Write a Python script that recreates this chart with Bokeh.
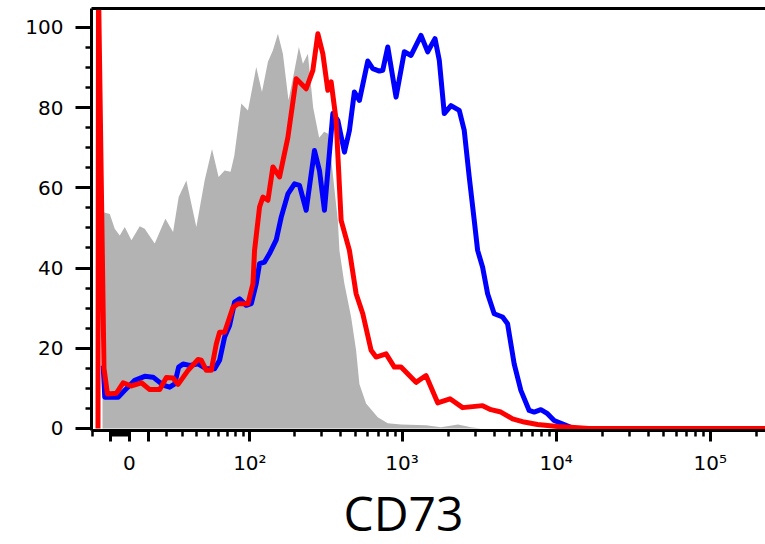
import numpy as np
from bokeh.plotting import figure
from bokeh.models import Range1d, FixedTicker, SingleIntervalTicker, LinearAxis, Title
from bokeh.embed import file_html
from bokeh.resources import INLINE

# ---- display scale: biexponential (arcsinh) channel, channel 0 == intensity 0
BIEX_W = 34.0
BIEX_SCALE = 154.3


def to_channel(v):
    return BIEX_SCALE * np.arcsinh(np.asarray(v, dtype=float) / BIEX_W) / np.log(10)


# ---- data (x in display channels, y in % of max)
gray_ch = [-27, -19.7, -14.7, -9.7, -4.7, 2, 10.3, 15.3, 25.3, 36, 43.7, 49.3, 57, 67, 75.3,
           82.7, 89.3, 95.3, 101.3, 105, 108.7, 112, 118.7, 127, 132.7, 138.7, 143.7, 148.7,
           153.7, 159.3, 165.3, 169.7, 173.7, 178.7, 184, 190, 195, 199, 203, 208.7, 210.3,
           215.3, 222, 227, 230.3, 237, 248.7, 258.7, 272, 297, 312, 329, 342, 352]
gray_pct = [54, 53.5, 49.8, 48.1, 50.2, 46.9, 50.4, 49.8, 46.1, 52.3, 49, 57.7, 61.8, 50.2, 61.8,
            69.7, 62.7, 64.3, 64, 68, 75, 81, 79.3, 90.1, 83.9, 91.4, 94.3, 98.4,
            93.4, 81.8, 89.3, 95.1, 90.9, 93.4, 80, 72.5, 74, 73.5, 65, 51.9, 44.4,
            36.1, 27.8, 19.5, 11.1, 6.2, 2.8, 1.3, 1.0, 0.8, 0.3, 1.0, 0.3, 0]

blue_ch = [-26.3, -24.7, -19.7, -11.3, -4.7, 5.3, 15.3, 23.7, 30.3, 35.3, 40.3, 45.3, 49.3, 53.7,
           60.3, 68.7, 77, 85.3, 90.3, 95.3, 100.3, 105.3, 110.3, 117, 122, 127, 130.3, 135.3,
           140.3, 147, 152, 158.7, 165.3, 170.3, 177, 185.3, 190.3, 195.3, 203.7, 208.7, 215.3,
           220.3, 225.3, 230.3, 238.7, 243.7, 250.3, 253.7, 258.7, 267, 275.3, 282, 292, 298.7,
           306, 310.3, 315.3, 322, 330.3, 335.3, 340.3, 345.3, 348.7, 353.7, 358.7, 365.3, 373.7,
           378.7, 385.3, 392, 400.3, 405.3, 412, 418.7, 425.3, 435.3, 442]
blue_pct = [15.7, 7.8, 7.8, 7.8, 9.5, 12, 13, 12.8, 11.5, 10.7, 10.3, 11.1, 15.3, 16.1,
            15.7, 16.1, 14.9, 14.9, 17, 22.8, 25.7, 31.5, 32.3, 30.7, 31.1, 36.1, 41.1, 41.5,
            43.6, 47, 52.7, 58.5, 61, 60.6, 54.4, 69.3, 64.3, 54.4, 78.5, 76.8, 68.9,
            74.3, 83.9, 81.8, 91.6, 89.7, 89.1, 89.3, 95.1, 82.6, 93.9, 93, 98, 93.9,
            97.2, 91.8, 78.5, 80.5, 79.3, 74.3, 62.7, 51.9, 44.4, 40.2, 33.6, 28.6, 27.8,
            26.1, 16.1, 9.5, 4.5, 4.1, 4.7, 3.7, 2.0, 1.0, 0.3]

red_ch = [-31.5, -31, -25.5, -22, -13, -6.3, 2, 12, 20.3, 30.3, 37, 43.7, 48.7, 58.7, 68.7, 72,
          77, 82, 87, 90.3, 95.3, 103.7, 108.7, 118.7, 123.7, 125.3, 130.3, 133.7, 138.7, 143.7,
          150.3, 158.7, 167, 177, 183.7, 188.7, 193.7, 198.7, 202, 207, 212, 220.3, 227, 233.7,
          242, 247, 257, 265.3, 272, 287, 297, 308.7, 321, 333.7, 353.7, 362, 372, 383.7,
          395.3, 408.7, 428.7, 442, 460, 640]
red_pct = [0, 110, 15, 8.6, 8.8, 11.4, 10.6, 11.4, 9.7, 9.7, 12.7, 12.6, 11, 14.5, 17.2, 17,
           14.5, 14.5, 21.1, 24, 24, 30.2, 31.1, 31.1, 36.1, 44.4, 55.2, 57.7, 56.9, 65.2,
           62.7, 72.6, 87.2, 84.7, 89.3, 98.4, 93.4, 84.3, 86.4, 76.8, 51.9, 44.4, 33.6, 28.6,
           19.5, 17.8, 18.6, 15.3, 15.3, 11.5, 13.2, 6.4, 7.4, 5.2, 5.7, 4.7, 4.1, 2.4,
           1.6, 1.0, 0.5, 0.3, 0, 0]

# axis ticks (intensity values)
x_major_vals = [-10, 0, 10, 100, 1000, 10000, 100000]
x_major_labels = ["", "0", "", "10²", "10³", "10⁴", "10⁵"]
x_minor_vals = ([-20, -9, -8, -7, -6, -5, -4, -3, -2, -1]
                + [20, 30, 40, 50, 60, 70, 80, 90]
                + [200, 300, 400, 500, 600, 700, 800, 900]
                + [2000, 3000, 4000, 5000, 6000, 7000, 8000, 9000]
                + [20000, 30000, 40000, 50000, 60000, 70000, 80000, 90000]
                + [200000])
x_title = "CD73"

major_ch = [round(float(c), 3) for c in to_channel(x_major_vals)]
minor_ch = [round(float(c), 3) for c in to_channel(x_minor_vals)]

p = figure(width=765, height=544, output_backend="svg", toolbar_location=None,
           x_range=Range1d(-38, 637), y_range=Range1d(-0.5, 104.7),
           min_border_left=91, min_border_right=0, min_border_top=8, min_border_bottom=0)
p.outline_line_color = None
p.grid.visible = False
p.background_fill_color = "white"
p.border_fill_color = "white"

p.varea(x=gray_ch, y1=0, y2=gray_pct, fill_color="#b3b3b3")
p.line(blue_ch, blue_pct, line_color="#0000ff", line_width=5, line_join="round")
p.line(red_ch, red_pct, line_color="#ff0000", line_width=5, line_join="round")

TICK_FONT = "DejaVu Sans"

xa = p.xaxis[0]
xa.ticker = FixedTicker(ticks=major_ch, minor_ticks=minor_ch)
xa.major_label_overrides = {c: lab for c, lab in zip(major_ch, x_major_labels)}
xa.axis_line_width = 3
xa.major_tick_line_width = 3
xa.minor_tick_line_width = 2.5
xa.major_tick_out = 11
xa.major_tick_in = 0
xa.minor_tick_out = 6
xa.minor_tick_in = 0
xa.major_label_standoff = 9
xa.major_label_text_font = TICK_FONT
xa.major_label_text_font_size = "20px"
xa.major_label_text_color = "black"

ya = p.yaxis[0]
ya.ticker = SingleIntervalTicker(interval=20, num_minor_ticks=4)
ya.axis_line_width = 3
ya.major_tick_line_width = 3
ya.minor_tick_line_width = 2.5
ya.major_tick_out = 16
ya.major_tick_in = 0
ya.minor_tick_out = 6
ya.minor_tick_in = 0
ya.major_label_standoff = 12
ya.major_label_text_font = TICK_FONT
ya.major_label_text_font_size = "20px"
ya.major_label_text_color = "black"

top = LinearAxis(ticker=FixedTicker(ticks=[]), axis_line_width=3,
                 major_tick_out=0, major_tick_in=0, minor_tick_out=0, minor_tick_in=0,
                 major_label_text_font_size="0px", major_label_standoff=0)
p.add_layout(top, "above")

p.add_layout(Title(text=x_title, align="left", offset=252, text_font="Open Sans",
                   text_font_size="48px", text_font_style="normal", text_color="black",
                   standoff=0), "below")

open("out.html", "w").write(file_html(p, INLINE))
